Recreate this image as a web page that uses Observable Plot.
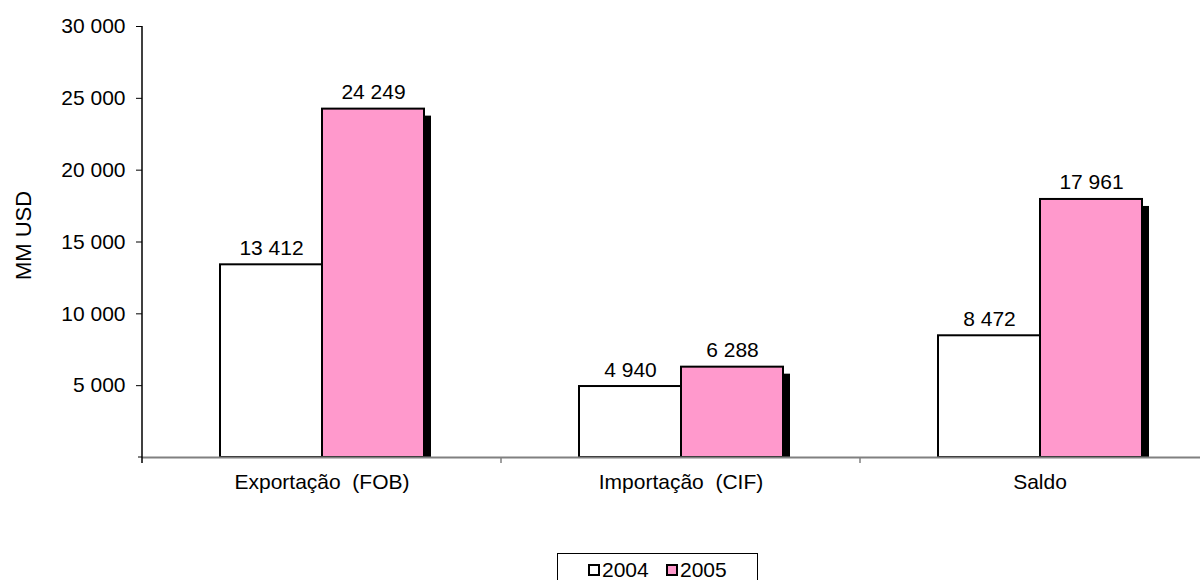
<!DOCTYPE html>
<html><head><meta charset="utf-8">
<script src="https://cdn.jsdelivr.net/npm/d3@7"></script>
<script src="https://cdn.jsdelivr.net/npm/@observablehq/plot@0.6"></script>
<style>
html,body{margin:0;padding:0;background:#fff;overflow:hidden;}
#wrap{position:relative;width:1200px;height:580px;overflow:hidden;font-family:"Liberation Sans",Arial,sans-serif;}
#chart{position:absolute;left:0;top:0;width:1220px;}
#chart svg{max-width:none !important;}
#legend{position:absolute;left:557px;top:553px;width:201px;height:40px;border:1px solid #000;box-sizing:border-box;font-size:21px;color:#000;}
.item{position:absolute;top:4px;display:flex;align-items:center;}
.sw{width:8px;height:8px;border:2px solid #000;margin-right:2px;}
</style></head>
<body><div id="wrap"><div id="chart"></div><div id="legend"></div></div>
<script>
const categories = ["Exportação  (FOB)", "Importação  (CIF)", "Saldo"];
const years = ["2004", "2005"];
const values2004 = [13412, 4940, 8472];
const values2005 = [24249, 6288, 17961];
const yTicks = [5000, 10000, 15000, 20000, 25000, 30000];
const colors = ["#FFFFFF", "#FF99CC"];
const yLabel = "MM USD";

const data = categories.flatMap((c, i) => [
  {category: c, year: years[0], value: values2004[i]},
  {category: c, year: years[1], value: values2005[i]}
]);
const fmt = d => d3.format(",")(d).replace(/,/g, " ");
const font = "'Liberation Sans', Arial, sans-serif";

const plot = Plot.plot({
  width: 1220, height: 520,
  marginLeft: 141, marginRight: 0, marginTop: 26, marginBottom: 63,
  style: {fontFamily: font, fontSize: "21px", color: "#000", background: "transparent", whiteSpace: "pre", overflow: "visible", maxWidth: "none"},
  fx: {domain: categories, padding: 0, label: null, axis: "bottom", tickSize: 0, tickPadding: 17},
  x: {domain: years, paddingInner: 0, paddingOuter: 0.754, axis: null},
  y: {domain: [0, 30000], ticks: yTicks, tickFormat: fmt, tickSize: 6, tickPadding: 11, label: null},
  color: {domain: years, range: colors},
  marks: [
    Plot.barY(data, {fx: "category", x: "year", y: "value", fill: "#000", dx: 7, insetTop: 7, filter: d => d.year === years[1]}),
    Plot.barY(data, {fx: "category", x: "year", y: "value", fill: "year", stroke: "#000", strokeWidth: 2}),
    Plot.ruleY([0], {stroke: "#808080", strokeWidth: 2}),
    Plot.text(data, {fx: "category", x: "year", y: "value", text: d => fmt(d.value), dy: -10, lineAnchor: "bottom", fontSize: 21})
  ]
});
document.getElementById("chart").appendChild(plot);

// axis lines, category ticks and y label from the plot's scales
const svg = d3.select(plot);
const ys = plot.scale("y"), fxs = plot.scale("fx");
const y0 = ys.apply(0), yTop = ys.apply(30000);
const x0 = fxs.apply(categories[0]);
svg.append("line").attr("x1", x0 - 4).attr("x2", x0).attr("y1", y0).attr("y2", y0).attr("stroke", "#808080").attr("stroke-width", 2);
svg.append("line").attr("x1", x0).attr("x2", x0).attr("y1", yTop).attr("y2", y0 + 6).attr("stroke", "#000").attr("stroke-width", 1.5);
categories.slice(1).forEach(c => {
  const xb = fxs.apply(c);
  svg.append("line").attr("x1", xb).attr("x2", xb).attr("y1", y0).attr("y2", y0 + 6).attr("stroke", "#808080").attr("stroke-width", 1.5);
});
svg.append("text").attr("transform", `translate(31,${(y0 + yTop) / 2 - 6}) rotate(-90)`)
  .attr("text-anchor", "middle").attr("font-size", 22).attr("font-family", font).attr("fill", "#000").text(yLabel);

// legend
const lg = document.getElementById("legend");
const lefts = [30, 108];
years.forEach((yr, i) => {
  const it = document.createElement("div");
  it.className = "item"; it.style.left = lefts[i] + "px";
  const sw = document.createElement("div"); sw.className = "sw"; sw.style.background = colors[i];
  const t = document.createElement("span"); t.textContent = yr;
  it.appendChild(sw); it.appendChild(t); lg.appendChild(it);
});
</script>
</body></html>
